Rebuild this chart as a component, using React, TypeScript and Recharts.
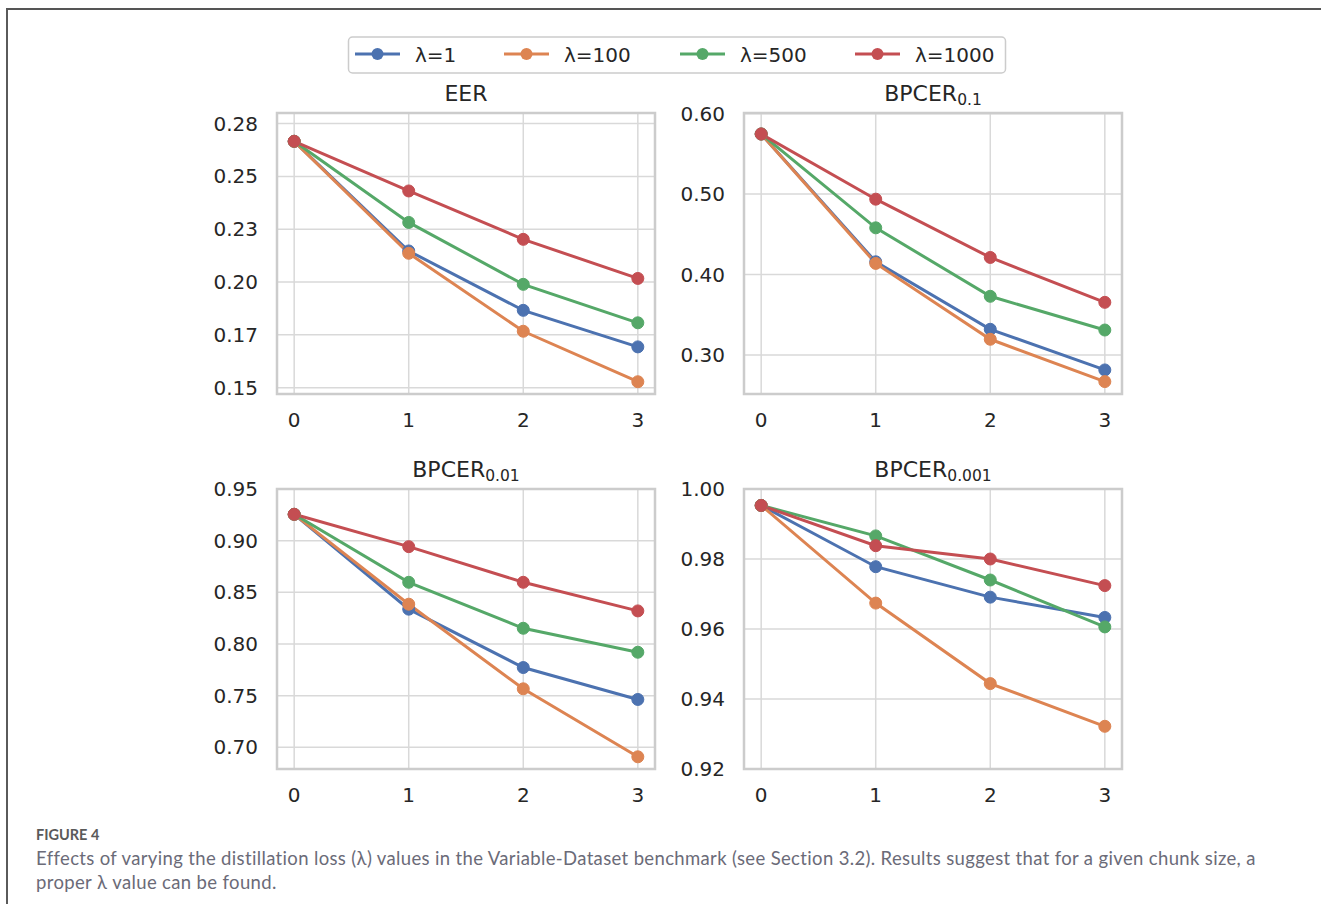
import React from 'react';
import { LineChart, Line, XAxis, YAxis, CartesianGrid, ReferenceArea } from 'recharts';

// ---------- data ----------
const chunks = [0, 1, 2, 3];
const seriesNames = ['λ=1', 'λ=100', 'λ=500', 'λ=1000'];
const seriesColors = ['#4C72B0', '#DD8452', '#55A868', '#C44E52'];

// EER
const eerL1 = [0.2666, 0.2147, 0.1866, 0.1693];
const eerL100 = [0.2666, 0.2136, 0.1767, 0.1528];
const eerL500 = [0.2666, 0.2282, 0.1989, 0.1807];
const eerL1000 = [0.2666, 0.2431, 0.2202, 0.2017];
const eerTicks = [0.15, 0.175, 0.2, 0.225, 0.25, 0.275];
const eerTickLabels = ['0.15', '0.17', '0.20', '0.23', '0.25', '0.28'];
const eerDomain = [0.147, 0.28];

// BPCER 0.1
const b01L1 = [0.5747, 0.4159, 0.332, 0.2815];
const b01L100 = [0.5747, 0.4139, 0.3196, 0.267];
const b01L500 = [0.5747, 0.4581, 0.373, 0.3311];
const b01L1000 = [0.5747, 0.4937, 0.4213, 0.3655];
const b01Ticks = [0.3, 0.4, 0.5, 0.6];
const b01TickLabels = ['0.30', '0.40', '0.50', '0.60'];
const b01Domain = [0.2516, 0.6008];

// BPCER 0.01
const b001L1 = [0.9255, 0.8337, 0.7772, 0.7463];
const b001L100 = [0.9255, 0.8385, 0.7566, 0.6908];
const b001L500 = [0.9255, 0.8597, 0.8152, 0.792];
const b001L1000 = [0.9255, 0.8942, 0.8597, 0.832];
const b001Ticks = [0.7, 0.75, 0.8, 0.85, 0.9, 0.95];
const b001TickLabels = ['0.70', '0.75', '0.80', '0.85', '0.90', '0.95'];
const b001Domain = [0.679, 0.95];

// BPCER 0.001
const b0001L1 = [0.9953, 0.9778, 0.9691, 0.9633];
const b0001L100 = [0.9953, 0.9674, 0.9444, 0.9322];
const b0001L500 = [0.9953, 0.9866, 0.974, 0.9606];
const b0001L1000 = [0.9953, 0.9838, 0.98, 0.9724];
const b0001Ticks = [0.92, 0.94, 0.96, 0.98, 1.0];
const b0001TickLabels = ['0.92', '0.94', '0.96', '0.98', '1.00'];
const b0001Domain = [0.92, 1.0];

const xDomain = [-0.15, 3.15];

function buildRows(values: number[][]) {
  return chunks.map((c, i) => {
    const row: Record<string, number> = { chunk: c };
    values.forEach((v, s) => {
      row['s' + s] = v[i];
    });
    return row;
  });
}

const TEXT = '#262626';
const FONT = '"DejaVu Sans", sans-serif';

type PanelProps = {
  rows: Record<string, number>[];
  domain: number[];
  ticks: number[];
  labels: string[];
  left: number;
  top: number;
  height: number;
};

function Panel({ rows, domain, ticks, labels, left, top, height }: PanelProps) {
  const YW = 90;
  const MT = 22;
  const MR = 8;
  const XH = 45;
  const PW = 378;
  return (
    <div style={{ position: 'absolute', left: left - YW, top: top - MT }}>
      <LineChart
        width={YW + PW + MR}
        height={MT + height + XH}
        data={rows}
        margin={{ top: MT, right: MR, bottom: 0, left: 0 }}
      >
        <CartesianGrid stroke="#d9d9d9" strokeWidth={1.5} />
        <ReferenceArea
          x1={xDomain[0]}
          x2={xDomain[1]}
          y1={domain[0]}
          y2={domain[1]}
          fill="#ffffff"
          fillOpacity={0}
          stroke="#cccccc"
          strokeWidth={2.5}
          strokeOpacity={1}
        />
        <XAxis
          dataKey="chunk"
          type="number"
          domain={xDomain}
          ticks={chunks}
          allowDataOverflow
          interval={0}
          height={XH}
          axisLine={false}
          tickLine={false}
          tickSize={6}
          tickMargin={13}
          tick={{ fill: TEXT, fontSize: 20, fontFamily: FONT }}
        />
        <YAxis
          type="number"
          domain={domain}
          ticks={ticks}
          allowDataOverflow
          interval={0}
          width={YW}
          axisLine={false}
          tickLine={false}
          tickSize={6}
          tickMargin={13}
          tickFormatter={(v: number, i: number) => {
            const k = ticks.indexOf(v);
            return k >= 0 ? labels[k] : labels[i];
          }}
          tick={{ fill: TEXT, fontSize: 20, fontFamily: FONT }}
        />
        {seriesNames.map((name, s) => (
          <Line
            key={name}
            name={name}
            dataKey={'s' + s}
            type="linear"
            stroke={seriesColors[s]}
            strokeWidth={3}
            dot={{ r: 6, fill: seriesColors[s], stroke: seriesColors[s], strokeWidth: 1 }}
            activeDot={false}
            isAnimationActive={false}
          />
        ))}
      </LineChart>
    </div>
  );
}

const panels = [
  { title: 'EER', sub: '', rows: buildRows([eerL1, eerL100, eerL500, eerL1000]), domain: eerDomain, ticks: eerTicks, labels: eerTickLabels, left: 277, top: 113, height: 281 },
  { title: 'BPCER', sub: '0.1', rows: buildRows([b01L1, b01L100, b01L500, b01L1000]), domain: b01Domain, ticks: b01Ticks, labels: b01TickLabels, left: 744, top: 113, height: 281 },
  { title: 'BPCER', sub: '0.01', rows: buildRows([b001L1, b001L100, b001L500, b001L1000]), domain: b001Domain, ticks: b001Ticks, labels: b001TickLabels, left: 277, top: 489, height: 280 },
  { title: 'BPCER', sub: '0.001', rows: buildRows([b0001L1, b0001L100, b0001L500, b0001L1000]), domain: b0001Domain, ticks: b0001Ticks, labels: b0001TickLabels, left: 744, top: 489, height: 280 },
];

const legendLineX = [355, 504, 680, 855];

export default function App() {
  return (
    <div
      style={{
        position: 'fixed',
        left: 0,
        top: 0,
        width: 1321,
        height: 904,
        overflow: 'hidden',
        background: '#ffffff',
      }}
    >
      <div
        style={{
          position: 'absolute',
          left: 6,
          top: 8,
          width: 1400,
          height: 1000,
          borderTop: '2px solid #555555',
          borderLeft: '2px solid #5a5a5a',
        }}
      />
      {panels.map((p, i) => (
        <Panel
          key={i}
          rows={p.rows}
          domain={p.domain}
          ticks={p.ticks}
          labels={p.labels}
          left={p.left}
          top={p.top}
          height={p.height}
        />
      ))}
      <svg
        width={1321}
        height={904}
        style={{ position: 'absolute', left: 0, top: 0, pointerEvents: 'none' }}
      >
        {/* legend */}
        <rect x={348.5} y={37} width={657} height={36} rx={4} ry={4} fill="#ffffff" stroke="#cccccc" strokeWidth={1.5} />
        {seriesNames.map((name, s) => (
          <g key={name}>
            <line x1={legendLineX[s]} x2={legendLineX[s] + 45} y1={54} y2={54} stroke={seriesColors[s]} strokeWidth={3} />
            <circle cx={legendLineX[s] + 22.5} cy={54} r={6} fill={seriesColors[s]} />
            <text x={legendLineX[s] + 60} y={61.5} fontSize={20} fontFamily={FONT} fill={TEXT}>
              {name}
            </text>
          </g>
        ))}
        {/* titles */}
        {panels.map((p, i) => (
          <text
            key={'t' + i}
            x={p.left + 189}
            y={p.top - 12.3}
            textAnchor="middle"
            fontSize={22}
            fontFamily={FONT}
            fill={TEXT}
          >
            <tspan>{p.title}</tspan>
            {p.sub ? (
              <tspan fontSize={15.5} dy={4}>
                {p.sub}
              </tspan>
            ) : null}
          </text>
        ))}
        {/* caption */}
        <text x={36} y={840} fontSize={14.5} fontWeight={700} fontFamily="Lato, sans-serif" fill="#5a5a5a">
          FIGURE 4
        </text>
        <text x={36} y={865} fontSize={18.5} letterSpacing={0.35} fontFamily="Lato, sans-serif" fill="#6b6b78">
          Effects of varying the distillation loss (λ) values in the Variable-Dataset benchmark (see Section 3.2). Results suggest that for a given chunk size, a
        </text>
        <text x={36} y={889} fontSize={18.5} letterSpacing={0.35} fontFamily="Lato, sans-serif" fill="#6b6b78">
          proper λ value can be found.
        </text>
      </svg>
    </div>
  );
}
